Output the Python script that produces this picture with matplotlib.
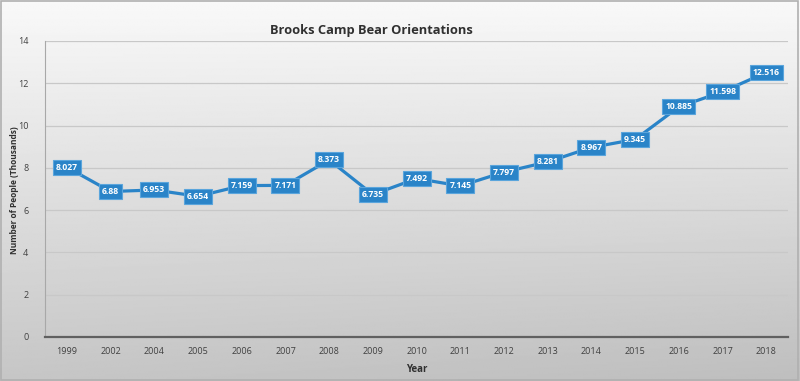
import numpy as np
import matplotlib.pyplot as plt

years = ["1999", "2002", "2004", "2005", "2006", "2007", "2008", "2009", "2010",
         "2011", "2012", "2013", "2014", "2015", "2016", "2017", "2018"]
people = [8.027, 6.88, 6.953, 6.654, 7.159, 7.171, 8.373, 6.735, 7.492,
          7.145, 7.797, 8.281, 8.967, 9.345, 10.885, 11.598, 12.516]
value_labels = ["8.027", "6.88", "6.953", "6.654", "7.159", "7.171", "8.373", "6.735", "7.492",
                "7.145", "7.797", "8.281", "8.967", "9.345", "10.885", "11.598", "12.516"]

plt.rcParams['font.family'] = ['Open Sans', 'DejaVu Sans']
blue = "#2a84c8"

fig = plt.figure(figsize=(8, 3.81), dpi=100)

# gradient background
bg = fig.add_axes([0, 0, 1, 1], zorder=-10)
grad = np.linspace(0, 1, 256).reshape(-1, 1)
xg = np.linspace(0, 1, 256).reshape(1, -1)
img = 0.975 - 0.2 * grad - 0.03 * xg * grad
bg.imshow(img, cmap="gray", vmin=0, vmax=1, aspect="auto", extent=[0, 1, 0, 1])
bg.set_xlim(0, 1)
bg.set_ylim(0, 1)
bg.axis("off")
bg.add_patch(plt.Rectangle((0.001, 0.002), 0.997, 0.995, fill=False,
                           edgecolor="#b0b0b0", lw=1.2))

ax = fig.add_axes([0.05625, 0.1155, 0.929, 0.777])
ax.patch.set_alpha(0)
x = np.arange(len(years))
ax.plot(x, people, color=blue, lw=2.3, zorder=3)
for xi, yi, lab in zip(x, people, value_labels):
    ax.text(xi, yi, lab, ha="center", va="center", color="white", fontsize=6.2,
            fontweight="bold", zorder=4,
            bbox=dict(boxstyle="square,pad=0.35", fc=blue, ec="#5aa5dc", lw=0.8))

ax.set_xlim(-0.5, len(years) - 0.5)
ax.set_ylim(0, 14)
ax.set_yticks(range(0, 15, 2))
ax.set_xticks(x)
ax.set_xticklabels(years)
ax.tick_params(axis="both", length=0, labelsize=6.5, colors="#404040")
ax.tick_params(axis="x", pad=7)
ax.tick_params(axis="y", pad=12)
ax.grid(axis="y", color="#c8c8c8", lw=0.9)
ax.set_axisbelow(True)
for s in ["top", "right"]:
    ax.spines[s].set_visible(False)
ax.spines["left"].set_color("#a8a8a8")
ax.spines["left"].set_linewidth(0.8)
ax.spines["bottom"].set_color("#606060")
ax.spines["bottom"].set_linewidth(1.6)

ax.set_xlabel("Year", fontsize=7, fontweight="bold", color="#303030", labelpad=6)
fig.text(0.018, 0.5, "Number of People (Thousands)", rotation=90, ha="center",
         va="center", fontsize=6, fontweight="bold", color="#303030")
fig.text(0.464, 0.921, "Brooks Camp Bear Orientations", ha="center", va="center",
         fontsize=9.3, fontweight="bold", color="#303030")

fig.savefig("out.png", dpi=100)
